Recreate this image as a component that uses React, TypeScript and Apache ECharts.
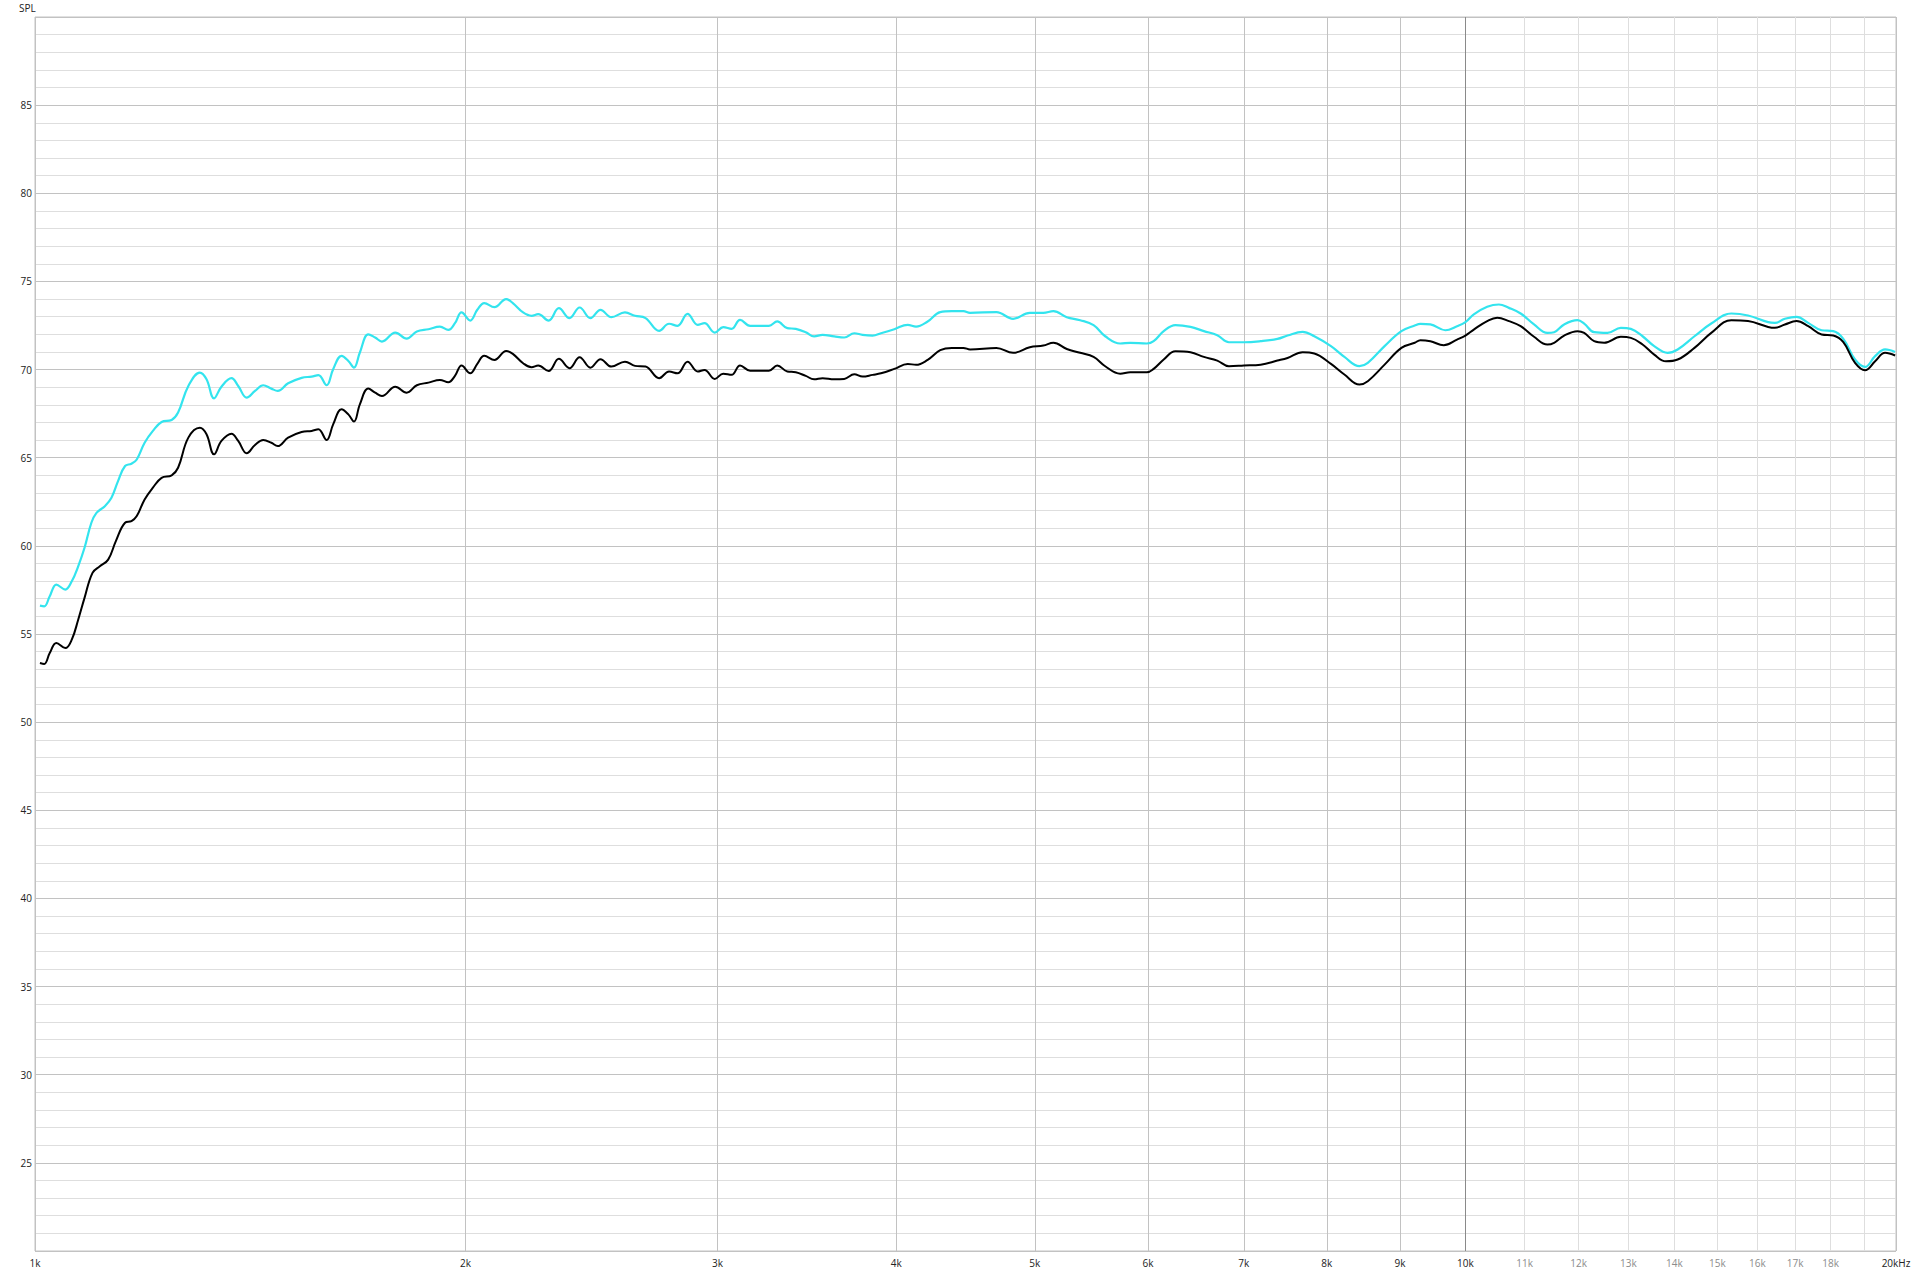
import React, { useEffect, useRef } from 'react';
import * as echarts from 'echarts';

const cyanFreq = [
  1008, 1015, 1024, 1035, 1050, 1061, 1072, 1083, 1095, 1104, 1119, 1131, 1143, 1156, 1168, 1178, 1193, 1209, 1226, 1246,
  1259, 1280, 1304, 1318, 1334, 1350, 1372, 1387, 1406, 1425, 1444, 1463, 1478, 1503, 1536, 1561, 1578, 1599, 1616, 1638,
  1656, 1671, 1687, 1710, 1729, 1748, 1786, 1819, 1849, 1884,
  1919, 1945, 1966, 1987, 2015, 2038, 2061, 2095, 2135, 2158, 2194, 2224, 2248, 2286, 2324, 2364, 2403, 2445, 2485, 2529,
  2585, 2627, 2672, 2731, 2775, 2813, 2859, 2906, 2938, 2987, 3028, 3069, 3111, 3162, 3259, 3303, 3357, 3403, 3458, 3505,
  3553, 3620, 3679, 3739, 3789, 3851, 3903, 3988, 4075, 4130, 4208,
  4294, 4375, 4457, 4505, 4700, 4828, 4960, 5069, 5152, 5264, 5379, 5496, 5600, 5737, 5830, 5989, 6054, 6153, 6270, 6424,
  6564, 6707, 6834, 7001, 7192, 7389, 7510, 7695, 7841, 8054, 8230, 8432, 8546, 8780, 9021, 9217,
  9301, 9452, 9683, 9866, 10000, 10136, 10357, 10554, 10726, 10930, 11168, 11411, 11535, 11723, 11978, 12107, 12303, 12570,
  12843, 13052, 13300, 13552, 13847, 14073, 14459, 14855, 15343, 15761, 16280, 16456, 16724, 17041, 17364, 17743, 18079,
  18374, 18724, 19028, 19339, 19653, 19972,
];
const cyanSpl = [
  56.61, 56.57, 57.14, 57.8, 57.52, 57.99, 58.84, 59.89, 61.31, 61.87, 62.25, 62.73, 63.67, 64.53, 64.66, 64.9, 65.85, 66.52, 67.03, 67.14,
  67.56, 69.07, 69.83, 69.45, 68.37, 69.03, 69.51, 69.07, 68.41, 68.79, 69.11, 68.92, 68.79, 69.22, 69.53, 69.6, 69.68, 69.11, 70.02, 70.78,
  70.49, 70.11, 70.97, 72.0, 71.82, 71.59, 72.1, 71.76, 72.16, 72.29,
  72.44, 72.25, 72.63, 73.24, 72.78, 73.39, 73.77, 73.54, 74.0, 73.77, 73.24, 73.05, 73.14, 72.78, 73.48, 72.92, 73.52, 72.92, 73.39, 72.97,
  73.24, 73.05, 72.92, 72.2, 72.6, 72.48, 73.16, 72.54, 72.63, 72.1, 72.41, 72.31, 72.82, 72.48, 72.48, 72.73, 72.35, 72.31, 72.12, 71.88,
  71.97, 71.88, 71.82, 72.06, 71.97, 71.93, 72.06, 72.29, 72.54, 72.44, 72.73,
  73.26, 73.31, 73.31, 73.22, 73.26, 72.88, 73.22, 73.22, 73.31, 72.97, 72.8, 72.52, 71.89, 71.48, 71.52, 71.48, 71.61, 72.18, 72.52, 72.42,
  72.18, 71.95, 71.55, 71.55, 71.61, 71.74, 71.93, 72.14, 71.89, 71.33, 70.72, 70.19, 70.38, 71.33, 72.18, 72.5,
  72.59, 72.56, 72.23, 72.46, 72.69, 73.13, 73.56, 73.69, 73.5, 73.18, 72.56, 72.08, 72.12, 72.56, 72.8, 72.61, 72.12, 72.08,
  72.37, 72.31, 71.89, 71.33, 70.95, 71.14, 71.89, 72.61, 73.18, 73.07, 72.69, 72.65, 72.88, 72.99, 72.65, 72.23, 72.18,
  71.74, 70.57, 70.15, 70.76, 71.14, 71.0,
];

const blackFreq = [
  1008, 1015, 1024, 1035, 1050, 1061, 1072, 1083, 1097, 1110, 1125, 1139, 1156, 1168, 1178, 1193, 1209, 1226, 1246, 1259,
  1280, 1304, 1318, 1334, 1350, 1372, 1387, 1406, 1425, 1444, 1463, 1478, 1503, 1536, 1561, 1578, 1599, 1616, 1638, 1656,
  1671, 1687, 1710, 1729, 1748, 1786, 1819, 1849, 1884,
  1919, 1945, 1966, 1987, 2015, 2038, 2061, 2095, 2135, 2158, 2194, 2224, 2248, 2286, 2324, 2364, 2403, 2445, 2485, 2529,
  2585, 2627, 2672, 2731, 2775, 2813, 2859, 2906, 2938, 2987, 3028, 3069, 3111, 3162, 3259, 3303, 3357, 3403, 3458, 3505,
  3553, 3620, 3679, 3739, 3789, 3851, 3903, 3988, 4075, 4130, 4208,
  4294, 4375, 4457, 4505, 4700, 4828, 4960, 5069, 5152, 5264, 5379, 5496, 5600, 5737, 5830, 5989, 6054, 6153, 6270, 6424,
  6564, 6707, 6834, 7001, 7192, 7389, 7510, 7695, 7841, 8054, 8230, 8432, 8546, 8780, 9021, 9217,
  9301, 9452, 9657, 9866, 10000, 10136, 10357, 10526, 10726, 10930, 11168, 11411, 11535, 11723, 11978, 12107, 12303, 12503,
  12843, 13052, 13300, 13552, 13810, 14073, 14459, 14855, 15343, 15761, 16280, 16456, 16724, 17041, 17364, 17743, 18079,
  18374, 18724, 19028, 19339, 19653, 19972,
];
const blackSpl = [
  53.35, 53.3, 53.92, 54.49, 54.2, 54.68, 55.81, 57.05, 58.47, 58.84, 59.22, 60.27, 61.31, 61.4, 61.69, 62.63, 63.3, 63.86, 64.0, 64.43,
  66.14, 66.7, 66.33, 65.19, 65.95, 66.36, 65.95, 65.25, 65.72, 66.0, 65.85, 65.66, 66.14, 66.46, 66.52, 66.61, 66.0, 66.89, 67.75, 67.46,
  67.05, 68.03, 68.92, 68.69, 68.5, 69.03, 68.69, 69.11, 69.26,
  69.41, 69.28, 69.64, 70.23, 69.79, 70.32, 70.78, 70.55, 71.06, 70.89, 70.36, 70.13, 70.23, 69.92, 70.61, 70.08, 70.7, 70.11, 70.59, 70.17,
  70.45, 70.21, 70.17, 69.51, 69.89, 69.79, 70.45, 69.89, 69.98, 69.47, 69.77, 69.7, 70.23, 69.94, 69.94, 70.23, 69.89, 69.85, 69.64, 69.45,
  69.51, 69.45, 69.47, 69.73, 69.6, 69.7, 69.79, 70.04, 70.32, 70.27, 70.55,
  71.1, 71.23, 71.23, 71.14, 71.23, 70.95, 71.27, 71.36, 71.52, 71.17, 70.95, 70.72, 70.19, 69.77, 69.85, 69.85, 70.04, 70.57, 71.04, 70.98,
  70.72, 70.51, 70.19, 70.23, 70.28, 70.51, 70.66, 70.98, 70.91, 70.32, 69.72, 69.15, 69.34, 70.28, 71.23, 71.52,
  71.67, 71.61, 71.38, 71.7, 71.93, 72.27, 72.75, 72.94, 72.75, 72.46, 71.86, 71.42, 71.52, 71.93, 72.18, 72.08, 71.61, 71.52,
  71.86, 71.8, 71.42, 70.85, 70.47, 70.57, 71.23, 72.08, 72.8, 72.75, 72.42, 72.37, 72.56, 72.75, 72.46, 71.99, 71.93,
  71.55, 70.38, 69.96, 70.47, 70.95, 70.8,
];

const gridFreqs = [
  1000, 2000, 3000, 4000, 5000, 6000, 7000, 8000, 9000, 10000,
  11000, 12000, 13000, 14000, 15000, 16000, 17000, 18000, 19000, 20000,
];
const labelFreqs = [
  1000, 2000, 3000, 4000, 5000, 6000, 7000, 8000, 9000, 10000,
  11000, 12000, 13000, 14000, 15000, 16000, 17000, 18000, 20000,
];
const yLabelValues = [25, 30, 35, 40, 45, 50, 55, 60, 65, 70, 75, 80, 85];

const FONT = 'Open Sans';

export default function App() {
  const ref = useRef<HTMLDivElement>(null);

  useEffect(() => {
    const chart = echarts.init(ref.current as HTMLDivElement, null, { renderer: 'svg' });
    const lg = (f: number) => Math.log10(f);
    const xColors = gridFreqs.map((f) =>
      f === 10000 ? '#8a8a8a' : f > 10000 && f < 20000 ? '#dedede' : '#c2c2c2'
    );
    const toPairs = (fs: number[], vs: number[]) => fs.map((f, i) => [lg(f), vs[i]]);

    chart.setOption({
      animation: false,
      backgroundColor: '#ffffff',
      title: {
        text: 'SPL',
        left: 14,
        top: -2,
        textStyle: { fontSize: 10, fontWeight: 'normal', color: '#222', fontFamily: FONT },
      },
      grid: {
        left: 35,
        top: 17,
        width: 1861,
        height: 1234,
        show: true,
        borderColor: '#c2c2c2',
        borderWidth: 1,
      },
      xAxis: {
        type: 'value',
        min: lg(1000),
        max: lg(20000),
        axisLine: { show: false },
        axisTick: { show: false, customValues: gridFreqs.map(lg) },
        splitLine: { show: true, lineStyle: { color: xColors, width: 1 } },
        axisLabel: {
          customValues: labelFreqs.map(lg),
          margin: 7,
          fontFamily: FONT,
          fontSize: 10,
          formatter: (v: number) => {
            const k = Math.round(Math.pow(10, v) / 1000);
            if (k === 20) return '{d|20kHz}';
            return k > 10 ? `{g|${k}k}` : `{d|${k}k}`;
          },
          rich: {
            d: { color: '#222', fontSize: 10, fontFamily: FONT },
            g: { color: '#8c8c8c', fontSize: 10, fontFamily: FONT },
          },
        },
      },
      yAxis: {
        type: 'value',
        min: 20,
        max: 90,
        interval: 1,
        axisLine: { show: false },
        axisTick: { show: false },
        splitLine: {
          show: true,
          lineStyle: { color: ['#c2c2c2', '#dedede', '#dedede', '#dedede', '#dedede'], width: 1 },
        },
        axisLabel: {
          customValues: yLabelValues,
          margin: 3,
          color: '#222',
          fontSize: 10,
          fontFamily: FONT,
        },
      },
      series: [
        {
          type: 'line',
          data: toPairs(cyanFreq, cyanSpl),
          showSymbol: false,
          smooth: 0.4,
          lineStyle: { color: '#33e4ee', width: 2.2 },
          itemStyle: { color: '#33e4ee' },
        },
        {
          type: 'line',
          data: toPairs(blackFreq, blackSpl),
          showSymbol: false,
          smooth: 0.4,
          lineStyle: { color: '#000000', width: 2 },
          itemStyle: { color: '#000000' },
        },
      ],
    });

    return () => {
      chart.dispose();
    };
  }, []);

  return (
    <div
      ref={ref}
      style={{ position: 'fixed', left: 0, top: 0, width: 1915, height: 1276, background: '#fff' }}
    />
  );
}
